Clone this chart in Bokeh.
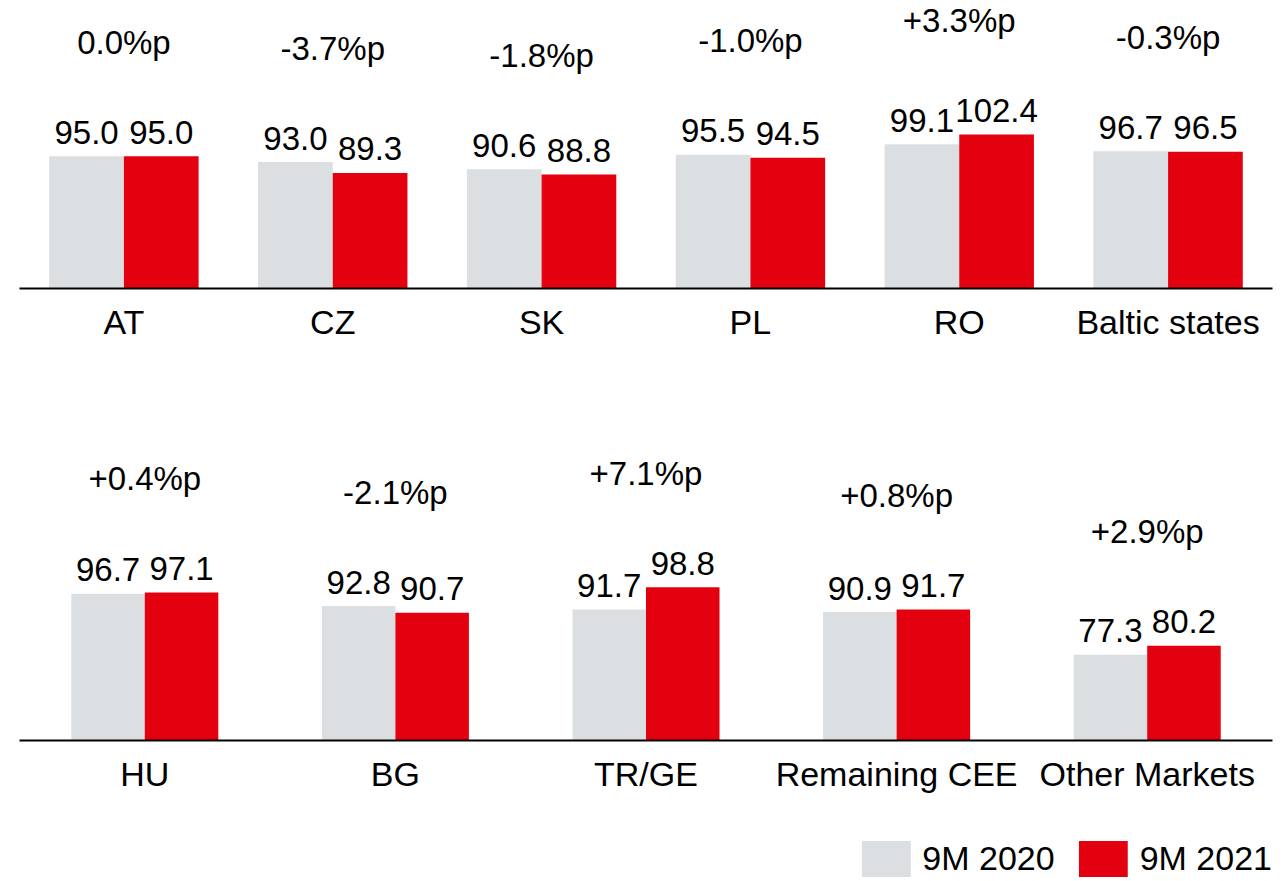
from bokeh.plotting import figure
from bokeh.models import ColumnDataSource, FactorRange, Range1d, Legend, LegendItem
from bokeh.transform import dodge
from bokeh.layouts import column
from bokeh.core.properties import value
from bokeh.embed import file_html
from bokeh.resources import INLINE

# ---------------- data ----------------
top_cats = ["AT", "CZ", "SK", "PL", "RO", "Baltic states"]
top_2020 = [95.0, 93.0, 90.6, 95.5, 99.1, 96.7]
top_2021 = [95.0, 89.3, 88.8, 94.5, 102.4, 96.5]
top_diff = ["0.0%p", "-3.7%p", "-1.8%p", "-1.0%p", "+3.3%p", "-0.3%p"]

bot_cats = ["HU", "BG", "TR/GE", "Remaining CEE", "Other Markets"]
bot_2020 = [96.7, 92.8, 91.7, 90.9, 77.3]
bot_2021 = [97.1, 90.7, 98.8, 91.7, 80.2]
bot_diff = ["+0.4%p", "-2.1%p", "+7.1%p", "+0.8%p", "+2.9%p"]

series = ["9M 2020", "9M 2021"]

# ---------------- style ----------------
GRAY = "#dcdfe2"
RED = "#e3000f"
FONT = "Liberation Sans"
FS = "34px"
FS_VAL = "33px"
BASE = 50


def make_row(cats, v20, v21, diff, height, top_border, frame_h, px_per_unit, bar_w):
    src = ColumnDataSource(dict(
        cat=cats, v20=v20, v21=v21,
        l20=[f"{v:.1f}" for v in v20],
        l21=[f"{v:.1f}" for v in v21],
        vmax=[max(a, b) for a, b in zip(v20, v21)],
        diff=diff,
    ))
    p = figure(width=1280, height=height,
               x_range=FactorRange(*cats, range_padding=0),
               y_range=Range1d(BASE, BASE + frame_h / px_per_unit),
               toolbar_location=None, output_backend="svg",
               y_axis_location=None,
               min_border_left=19, min_border_right=5,
               min_border_top=top_border,
               min_border_bottom=height - frame_h - top_border)
    p.outline_line_color = None
    p.grid.visible = False
    p.background_fill_color = "white"
    p.border_fill_color = "white"

    p.vbar(x=dodge("cat", -bar_w / 2, range=p.x_range), top="v20", bottom=BASE,
           width=bar_w, source=src, fill_color=GRAY, line_color=None)
    p.vbar(x=dodge("cat", bar_w / 2, range=p.x_range), top="v21", bottom=BASE,
           width=bar_w, source=src, fill_color=RED, line_color=None)

    common = dict(source=src, text_font=value(FONT), text_font_size=value(FS_VAL),
                  text_color="black", text_align="center", text_baseline="alphabetic")
    p.text(x=dodge("cat", -bar_w / 2, range=p.x_range), y="v20", text="l20",
           y_offset=-24, **common)
    p.text(x=dodge("cat", bar_w / 2, range=p.x_range), y="v21", text="l21",
           y_offset=-24, **common)
    p.text(x="cat", y="vmax", text="diff", y_offset=-114, **common)

    ax = p.xaxis[0]
    ax.axis_line_color = "black"
    ax.axis_line_width = 2
    ax.major_tick_line_color = None
    ax.minor_tick_line_color = None
    ax.major_label_standoff = 8
    ax.major_label_text_font = FONT
    ax.major_label_text_font_size = FS
    ax.major_label_text_color = "black"
    return p


p1 = make_row(top_cats, top_2020, top_2021, top_diff,
              height=440, top_border=8, frame_h=280, px_per_unit=2.94, bar_w=0.3577)
p2 = make_row(bot_cats, bot_2020, bot_2021, bot_diff,
              height=370, top_border=0, frame_h=300, px_per_unit=3.14, bar_w=0.2934)

# ---------------- legend row ----------------
p3 = figure(width=1280, height=71, x_range=Range1d(0, 1), y_range=Range1d(0, 1),
            x_axis_location=None, y_axis_location=None,
            toolbar_location=None, output_backend="svg",
            min_border_left=0, min_border_right=8,
            min_border_top=0, min_border_bottom=0)
p3.outline_line_color = None
p3.grid.visible = False
# swatch renderers kept outside the visible range; only their legend entries show
g1 = p3.vbar(x=[-10], top=[-10], bottom=[-11], width=0.1, fill_color=GRAY, line_color=None)
g2 = p3.vbar(x=[-10], top=[-10], bottom=[-11], width=0.1, fill_color=RED, line_color=None)
legend = Legend(items=[LegendItem(label=series[0], renderers=[g1]),
                       LegendItem(label=series[1], renderers=[g2])],
                orientation="horizontal", location="bottom_right",
                glyph_width=61, glyph_height=45, label_standoff=6, spacing=18,
                padding=0, margin=0, border_line_color=None,
                background_fill_alpha=0, label_height=45,
                label_text_font=FONT, label_text_font_size=FS,
                label_text_color="black")
p3.add_layout(legend)

layout = column(p1, p2, p3, spacing=0)
open("out.html", "w").write(file_html(layout, INLINE))
